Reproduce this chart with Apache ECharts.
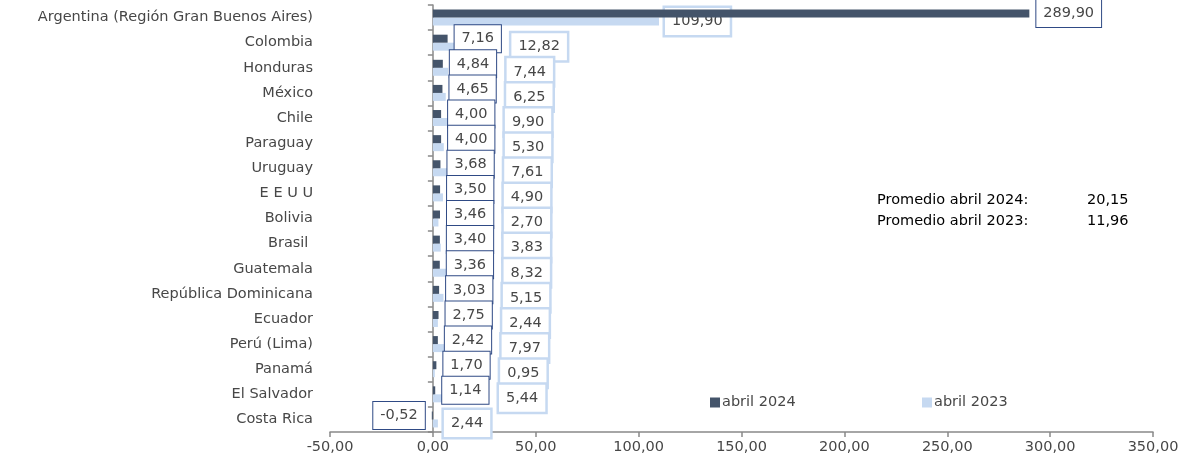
<!DOCTYPE html>
<html><head><meta charset="utf-8">
<script src="https://cdn.jsdelivr.net/npm/echarts@6/dist/echarts.min.js"></script>
<style>html,body{margin:0;padding:0;background:#fff}#c{width:1182px;height:458px}</style>
</head><body><div id="c"></div>
<script>
var categories = ["Argentina (Región Gran Buenos Aires)","Colombia","Honduras","México","Chile","Paraguay","Uruguay","E E U U","Bolivia","Brasil ","Guatemala","República Dominicana","Ecuador","Perú (Lima)","Panamá","El Salvador","Costa Rica"];
var abril2024 = [289.90,7.16,4.84,4.65,4.00,4.00,3.68,3.50,3.46,3.40,3.36,3.03,2.75,2.42,1.70,1.14,-0.52];
var abril2023 = [109.90,12.82,7.44,6.25,9.90,5.30,7.61,4.90,2.70,3.83,8.32,5.15,2.44,7.97,0.95,5.44,2.44];
var seriesNames = ["abril 2024","abril 2023"];
var xTicks = {min:-50, max:350, interval:50};
var promedioLabels = ["Promedio abril 2024:","Promedio abril 2023:"];
var promedioValues = ["20,15","11,96"];

var FONT = 'DejaVu Sans';
var FS = 14.5;
var GRID_L = 330, GRID_R = 29, W = 1182;
var pxPer = (W - GRID_L - GRID_R) / (xTicks.max - xTicks.min);
function xPix(v){ return GRID_L + (v - xTicks.min) * pxPer; }
function fmt(v){ return v.toFixed(2).replace('.', ','); }
var cv = document.createElement('canvas').getContext('2d');
cv.font = FS + 'px "' + FONT + '"';
function textW(s){ return cv.measureText(s).width; }

var DIST24 = 7, DIST23 = 6, GAP = 7, PADX = 7;
var C24 = '#44546A', C23 = '#C6D9F1', B24 = '#2F4A85', TXT = '#474747';

var data24 = abril2024.map(function(v){
  return v < 0 ? {value:v, label:{position:'left'}} : {value:v};
});

var chart = echarts.init(document.getElementById('c'), null, {renderer:'canvas'});
chart.setOption({
  animation:false,
  textStyle:{fontFamily:FONT},
  grid:{left:GRID_L, right:GRID_R, top:5, bottom:26, containLabel:false, outerBoundsMode:'none'},
  xAxis:{type:'value', min:xTicks.min, max:xTicks.max, interval:xTicks.interval,
    splitLine:{show:false},
    axisLine:{show:true, lineStyle:{color:'#898989', width:1.5}},
    axisTick:{show:true, length:5, lineStyle:{color:'#898989', width:1.5}},
    axisLabel:{color:TXT, fontSize:FS, fontFamily:FONT, margin:8, formatter:function(v){return fmt(v);}}
  },
  yAxis:{type:'category', data:categories, inverse:true,
    axisLine:{show:true, onZero:true, lineStyle:{color:'#898989', width:1.5}},
    axisTick:{show:true, length:5, lineStyle:{color:'#898989', width:1.5}},
    axisLabel:{color:TXT, fontSize:FS, fontFamily:FONT, margin:17}
  },
  legend:[
    {data:[seriesNames[0]], left:705, top:390, icon:'rect', itemWidth:10, itemHeight:10, itemGap:0,
     textStyle:{color:TXT, fontSize:FS, fontFamily:FONT, padding:[0,0,0,-3]}},
    {data:[seriesNames[1]], left:917, top:390, icon:'rect', itemWidth:10, itemHeight:10, itemGap:0,
     textStyle:{color:TXT, fontSize:FS, fontFamily:FONT, padding:[0,0,0,-3]}}
  ],
  graphic:[
    {type:'text', left:877, top:193, style:{text:promedioLabels[0], fill:'#000', fontSize:FS, fontFamily:FONT}},
    {type:'text', left:1087, top:193, style:{text:promedioValues[0], fill:'#000', fontSize:FS, fontFamily:FONT}},
    {type:'text', left:877, top:214, style:{text:promedioLabels[1], fill:'#000', fontSize:FS, fontFamily:FONT}},
    {type:'text', left:1087, top:214, style:{text:promedioValues[1], fill:'#000', fontSize:FS, fontFamily:FONT}}
  ],
  series:[
    {name:seriesNames[0], type:'bar', data:data24, barWidth:8, barGap:'0%', itemStyle:{color:C24}, z:3,
     label:{show:true, position:'right', distance:DIST24, formatter:function(p){return fmt(p.value);},
       color:TXT, fontSize:FS, fontFamily:FONT, backgroundColor:'#fff', borderColor:B24, borderWidth:1,
       padding:[5,PADX], lineHeight:17}},
    {name:seriesNames[1], type:'bar', data:abril2023, barWidth:8, barGap:'0%', itemStyle:{color:C23}, z:2,
     label:{show:true, position:'right', distance:DIST23, formatter:function(p){return fmt(p.value);},
       color:TXT, fontSize:FS, fontFamily:FONT, backgroundColor:'#fff', borderColor:C23, borderWidth:2.5,
       padding:[5,PADX], lineHeight:17},
     labelLayout:function(p){
       var i = p.dataIndex, v24 = abril2024[i];
       if (v24 < 0) return {};
       var left24 = xPix(v24) + DIST24;
       var right24 = left24 + textW(fmt(v24)) + 2*PADX + 1;
       var r = p.labelRect;
       if (r.x < right24 + GAP && r.x + r.width > left24) return {dx: right24 + GAP - r.x};
       return {};
     }}
  ]
});
</script></body></html>
